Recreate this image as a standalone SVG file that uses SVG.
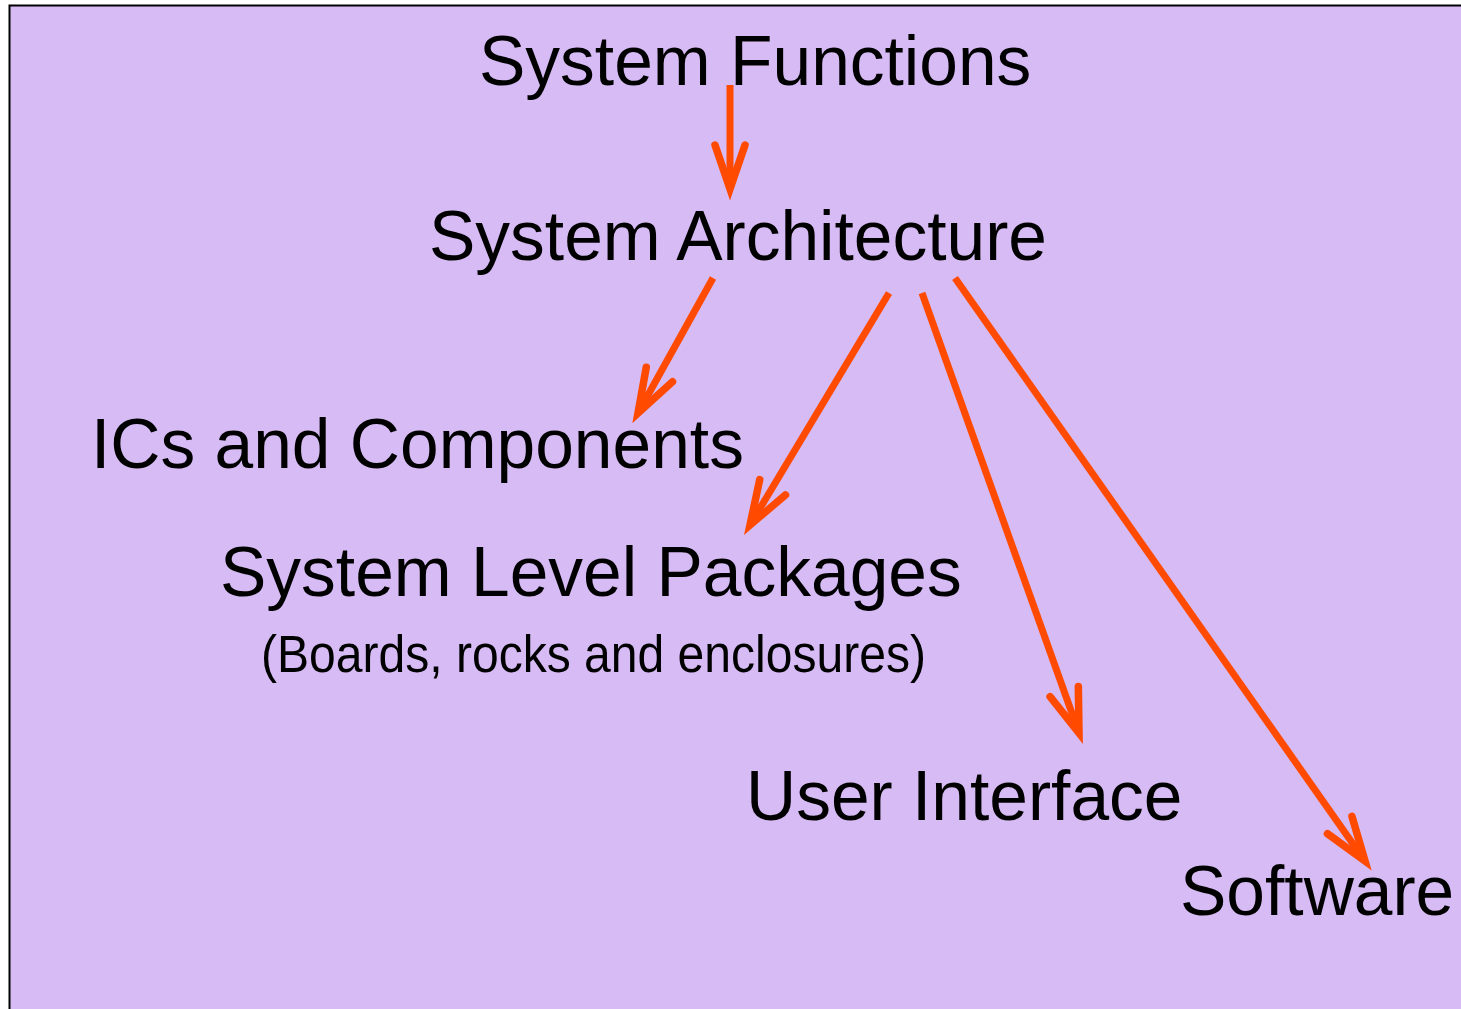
<svg xmlns="http://www.w3.org/2000/svg" width="1461" height="1009" viewBox="0 0 1461 1009">
  <defs>
    <style>
      .lbl { font-family: "Liberation Sans", Arial, sans-serif; font-size: 69.5px; fill: #000; }
      .sub { font-family: "Liberation Sans", Arial, sans-serif; font-size: 51px; fill: #000; }
      .conn { stroke: #FF4A00; stroke-width: 7; fill: none; stroke-linecap: butt; }
    </style>
    <marker id="head" markerUnits="userSpaceOnUse" viewBox="-60 -30 70 60" refX="0" refY="0" markerWidth="70" markerHeight="60" orient="auto" overflow="visible">
      <path d="M-44,-15 L0,0 L-44,15" fill="none" stroke="#FF4A00" stroke-width="7.5" stroke-linecap="round" stroke-linejoin="miter"/>
    </marker>
  </defs>

  <!-- backdrop panel -->
  <rect x="9.5" y="5.5" width="1460" height="1010" fill="#D7BBF5" stroke="#000" stroke-width="2"/>

  <g id="connectors">
    <line class="conn" x1="730" y1="85" x2="730" y2="189" marker-end="url(#head)"/>
    <line class="conn" x1="713" y1="278" x2="638" y2="413" marker-end="url(#head)"/>
    <line class="conn" x1="889" y1="293" x2="750" y2="525" marker-end="url(#head)"/>
    <line class="conn" x1="922" y1="293" x2="1079" y2="733" marker-end="url(#head)"/>
    <line class="conn" x1="955" y1="278" x2="1365" y2="861" marker-end="url(#head)"/>
  </g>

  <g id="system-functions">
    <text class="lbl" x="479" y="85">System Functions</text>
  </g>
  <g id="system-architecture">
    <text class="lbl" x="429" y="260">System Architecture</text>
  </g>
  <g id="ics-components">
    <text class="lbl" x="91" y="468">ICs and Components</text>
  </g>
  <g id="system-level-packages">
    <text class="lbl" x="220" y="596">System Level Packages</text>
    <text class="sub" x="261" y="672" textLength="665" lengthAdjust="spacingAndGlyphs">(Boards, rocks and enclosures)</text>
  </g>
  <g id="user-interface">
    <text class="lbl" x="746" y="820">User Interface</text>
  </g>
  <g id="software">
    <text class="lbl" x="1180" y="915">Software</text>
  </g>
</svg>
